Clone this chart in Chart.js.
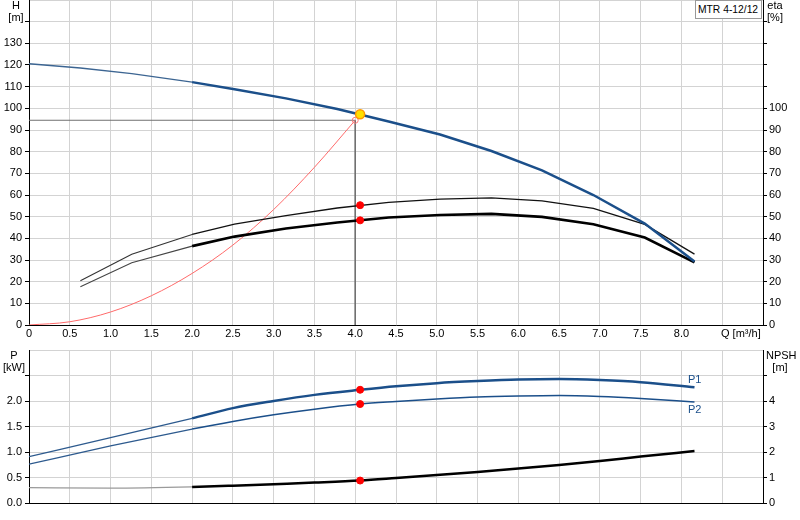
<!DOCTYPE html>
<html>
<head>
<meta charset="utf-8">
<script src="https://cdn.jsdelivr.net/npm/chart.js@4.4.1/dist/chart.umd.min.js"></script>
<style>
  body { margin: 0; background: #fff; font-family: "Liberation Sans", Arial, sans-serif; }
  #wrap { position: relative; width: 800px; height: 520px; overflow: hidden; }
  #topChart { position: absolute; left: 0; top: 0; }
  #bottomChart { position: absolute; left: 0; top: 340px; }
  .lbl { position: absolute; font-size: 11px; line-height: 12px; color: #000; text-align: center; white-space: nowrap; }
  .blue { color: #1b4f8a; }
  #model { position: absolute; left: 695px; top: 0; width: 67px; height: 19px; border: 1px solid #999;
           background: #fff; font-size: 10.3px; line-height: 17px; padding-left: 2px; box-sizing: border-box;
           white-space: nowrap; }
</style>
</head>
<body>
<div id="wrap">
  <canvas id="topChart" width="800" height="340"></canvas>
  <canvas id="bottomChart" width="800" height="180"></canvas>
  <div class="lbl" style="left:4px;top:-1px;width:24px">H<br>[m]</div>
  <div class="lbl" style="left:763px;top:-1px;width:24px">eta<br>[%]</div>
  <div class="lbl" style="left:721px;top:327px;text-align:left">Q [m³/h]</div>
  <div id="model">MTR 4-12/12</div>
  <div class="lbl" style="left:2px;top:349px;width:24px">P<br>[kW]</div>
  <div class="lbl" style="left:766px;top:349px;width:28px">NPSH<br>[m]</div>
  <div class="lbl blue" style="left:688px;top:373px">P1</div>
  <div class="lbl blue" style="left:688px;top:403px">P2</div>
</div>
<script>
// pump curve MTR 4-12/12
const qHead = [0, 0.63, 1.26, 2.0, 2.52, 3.15, 3.78, 4.41, 5.04, 5.67, 6.29, 6.92, 7.55, 8.16];
const headValues = [120.6, 118.6, 116.0, 112.1, 108.8, 104.6, 99.7, 93.9, 87.9, 80.3, 71.4, 60.0, 46.8, 29.3];

const qEta = [0.63, 1.26, 2.0, 2.52, 3.15, 3.78, 4.41, 5.04, 5.67, 6.29, 6.92, 7.55, 8.16];
const etaPump = [20.4, 32.7, 41.8, 46.6, 50.5, 54.0, 56.6, 58.1, 58.7, 57.3, 53.8, 46.4, 32.7];
const etaTotal = [17.7, 28.7, 36.4, 40.8, 44.5, 47.3, 49.6, 50.8, 51.3, 49.9, 46.5, 40.4, 28.9];

const qSystem = [0, 0.5, 1.0, 1.5, 2.0, 2.5, 3.0, 3.5, 4.0];
const systemHead = [0, 1.5, 6.0, 13.5, 23.8, 36.9, 53.3, 72.8, 94.5];

const qPower = [0, 1.0, 2.0, 2.5, 3.0, 3.5, 4.06, 4.5, 5.0, 5.5, 6.0, 6.5, 7.0, 7.5, 8.16];
const p1Values = [0.91, 1.28, 1.66, 1.86, 2.00, 2.12, 2.22, 2.29, 2.35, 2.39, 2.42, 2.43, 2.41, 2.37, 2.27];
const p2Values = [0.76, 1.12, 1.45, 1.60, 1.73, 1.84, 1.94, 1.99, 2.04, 2.08, 2.10, 2.11, 2.09, 2.05, 1.98];
const npshValues = [0.60, 0.58, 0.63, 0.68, 0.74, 0.80, 0.88, 0.98, 1.10, 1.22, 1.35, 1.49, 1.65, 1.82, 2.04];

// required duty and actual duty point
const reqQ = 4.0, reqH = 94.5;
const dutyQ = 4.06, dutyH = 97.3, dutyEtaPump = 55.3, dutyEtaTotal = 48.3;
const dutyP1 = 2.22, dutyP2 = 1.94, dutyNpsh = 0.88;

const BLUE = '#1b4f8a';
const GRID = '#d3d3d3';
const MINQ = 2.0; // below this the curves are drawn thin

Chart.defaults.font.family = '"Liberation Sans", Arial, sans-serif';
Chart.defaults.font.size = 11;
Chart.defaults.color = '#000';

function toXY(xs, ys) {
  return xs.map((x, i) => ({ x: x, y: ys[i] }));
}

function curve(data, yAxis, thinColor, thickColor, thinW, thickW, smooth) {
  return {
    data: data,
    yAxisID: yAxis,
    borderColor: thickColor,
    borderWidth: thickW,
    pointRadius: 0,
    tension: 0,
    cubicInterpolationMode: smooth ? 'monotone' : 'default',
    segment: {
      borderWidth: ctx => ctx.p0.parsed.x < MINQ ? thinW : thickW,
      borderColor: ctx => ctx.p0.parsed.x < MINQ ? thinColor : thickColor
    },
    order: 5
  };
}

function marker(x, y, yAxis, radius, fill, stroke, bw) {
  return {
    data: [{ x: x, y: y }],
    yAxisID: yAxis,
    showLine: false,
    pointRadius: radius,
    pointBackgroundColor: fill,
    pointBorderColor: stroke,
    pointBorderWidth: bw,
    order: 1
  };
}

function noPad(s) {
  s.paddingTop = 0; s.paddingBottom = 0; s.paddingLeft = 0; s.paddingRight = 0;
}

// an empty array keeps the grid line but takes no room
function xScale(showLabels, height) {
  return {
    type: 'linear', min: 0, max: 9,
    ticks: {
      display: showLabels, stepSize: 0.5, autoSkip: false, maxRotation: 0, padding: 2,
      callback: v => v === 0 ? '0' : (v >= 8.5 ? [] : v.toFixed(1))
    },
    grid: { color: GRID, drawTicks: false },
    border: { color: '#000' },
    afterFit: s => { s.height = height; noPad(s); }
  };
}

function yScale(pos, max, step, maxLabel, width, grid, fmt) {
  return {
    position: pos, min: 0, max: max,
    ticks: {
      stepSize: step, autoSkip: false, padding: pos === 'left' ? 3 : 2,
      callback: v => v <= maxLabel + 1e-9 ? fmt(v) : []
    },
    grid: {
      color: GRID, drawOnChartArea: grid, tickLength: 4,
      tickColor: ctx => (ctx.tick && ctx.tick.value < max - 1e-9) ? '#000' : 'rgba(0,0,0,0)'
    },
    border: { color: '#000' },
    afterFit: s => { s.width = width; noPad(s); }
  };
}

new Chart(document.getElementById('topChart'), {
  type: 'line',
  data: {
    datasets: [
      marker(dutyQ, dutyH, 'y', 4.5, '#ffe000', '#ff9a00', 1.5),
      marker(reqQ, reqH, 'y', 3, 'rgba(255,255,255,0)', '#ff7a7a', 1),
      marker(dutyQ, dutyEtaPump, 'eta', 3.5, '#ff0000', '#ff0000', 1),
      marker(dutyQ, dutyEtaTotal, 'eta', 3.5, '#ff0000', '#ff0000', 1),
      curve(toXY(qHead, headValues), 'y', '#3c6592', BLUE, 1.4, 2.5, false),
      curve(toXY(qEta, etaPump), 'eta', '#333', '#111', 1.1, 1.3, false),
      curve(toXY(qEta, etaTotal), 'eta', '#444', '#000', 1.1, 2.6, false),
      {
        data: toXY(qSystem, systemHead), yAxisID: 'y', borderColor: '#ff6a6a', borderWidth: 1,
        pointRadius: 0, cubicInterpolationMode: 'monotone', order: 6
      },
      {
        data: [{ x: 0, y: reqH }, { x: reqQ, y: reqH }, { x: reqQ, y: 0 }], yAxisID: 'y',
        borderColor: '#707070', borderWidth: 1, pointRadius: 0, tension: 0, order: 7
      }
    ]
  },
  options: {
    responsive: false, animation: false,
    layout: { padding: 0, autoPadding: false },
    plugins: { legend: { display: false }, tooltip: { enabled: false } },
    scales: {
      x: xScale(true, 15),
      y: yScale('left', 150, 10, 130, 29, true, v => String(v)),
      eta: yScale('right', 150, 10, 100, 37, false, v => String(v))
    }
  }
});

new Chart(document.getElementById('bottomChart'), {
  type: 'line',
  data: {
    datasets: [
      marker(dutyQ, dutyP1, 'y', 3.5, '#ff0000', '#ff0000', 1),
      marker(dutyQ, dutyP2, 'y', 3.5, '#ff0000', '#ff0000', 1),
      marker(dutyQ, dutyNpsh, 'npsh', 3.5, '#ff0000', '#ff0000', 1),
      curve(toXY(qPower, p1Values), 'y', '#2d5a8e', BLUE, 1.3, 2.5, true),
      curve(toXY(qPower, p2Values), 'y', '#2d5a8e', BLUE, 1.3, 1.5, true),
      curve(toXY(qPower, npshValues), 'npsh', '#9a9a9a', '#000', 1.2, 2.5, true)
    ]
  },
  options: {
    responsive: false, animation: false,
    layout: { padding: { top: 10 }, autoPadding: false },
    plugins: { legend: { display: false }, tooltip: { enabled: false } },
    scales: {
      x: xScale(false, 17),
      y: yScale('left', 3, 0.5, 2.0, 29, true, v => v.toFixed(1)),
      npsh: yScale('right', 6, 1, 4, 37, false, v => String(v))
    }
  }
});
</script>
</body>
</html>
